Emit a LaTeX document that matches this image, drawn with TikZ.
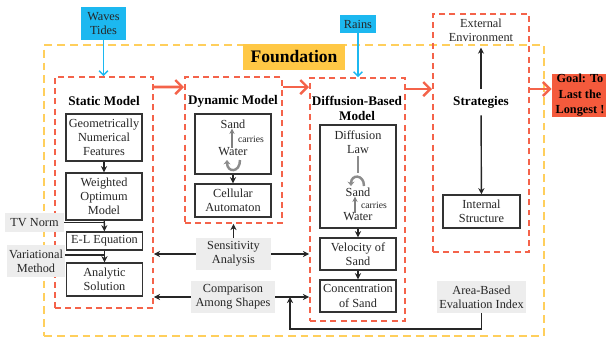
\documentclass[tikz,border=0pt]{standalone}
\usepackage{fontspec}
\setmainfont{Liberation Serif}
\usetikzlibrary{arrows.meta,positioning}

\definecolor{framered}{HTML}{F4634A}
\definecolor{frameyellow}{HTML}{FFCF5C}
\definecolor{labelgray}{HTML}{EDEDED}
\definecolor{skyblue}{HTML}{1CB8F0}
\definecolor{foundorange}{HTML}{FFC845}
\definecolor{goalred}{HTML}{F45A3C}
\definecolor{inktext}{HTML}{262626}

\tikzset{
  every node/.style={font=\fontsize{7}{8}\selectfont, text=inktext, align=center},
  frame/.style={draw=framered, line width=1.1pt, dash pattern=on 3.4pt off 2.4pt, inner sep=0pt},
  outerframe/.style={draw=frameyellow, line width=0.9pt, dash pattern=on 4.5pt off 2.8pt, inner sep=0pt},
  modelbox/.style={draw=black!80, line width=0.8pt, fill=white, minimum width=1.52cm, inner sep=1pt},
  graylabel/.style={fill=labelgray, inner sep=1pt},
  inputbox/.style={fill=skyblue, inner sep=1pt},
  frametitle/.style={font=\fontsize{7.5}{8.5}\bfseries\selectfont, text=black},
  flowarrow/.style={draw=framered, line width=1.6pt, -{Straight Barb[length=4pt,width=8pt,line width=1.4pt]}},
  inarrow/.style={draw=skyblue, line width=0.8pt, -{Straight Barb[length=2.5pt,width=5pt]}},
  thinarrow/.style={draw=black!85, line width=0.8pt, -{Stealth[length=3.5pt,width=3.5pt]}},
  grayarrow/.style={draw=black!50, line width=0.8pt, -{Stealth[length=3pt,width=3pt]}},
  curlarrow/.style={draw=black!45, line width=1.4pt, -{Stealth[length=2.5pt,width=4pt]}},
  smalltext/.style={font=\fontsize{5.5}{6}\selectfont}
}

\begin{document}
\begin{tikzpicture}[x=0.02cm,y=-0.02cm]
  \useasboundingbox (0,0) rectangle (606,338);

  % foundation
  \node[outerframe, minimum width=10cm, minimum height=5.82cm] (found) at (294,190.5) {};
  \node[fill=foundorange, minimum width=2.04cm, minimum height=0.52cm, inner sep=0pt,
        font=\fontsize{10}{11}\bfseries\selectfont, text=black] (foundlabel) at (294,57) {Foundation};

  % frames
  \node[frame, minimum width=1.96cm, minimum height=4.62cm] (static) at (104,192.5) {};
  \node[frame, minimum width=1.94cm, minimum height=2.92cm] (dyn) at (233.5,150) {};
  \node[frame, minimum width=1.90cm, minimum height=4.86cm] (diff) at (357.5,199.5) {};
  \node[frame, minimum width=1.92cm, minimum height=4.76cm] (strat) at (481,133) {};

  \node[frametitle] (statictitle) at (104,101) {Static Model};
  \node[frametitle] (dyntitle) at (233,101) {Dynamic Model};
  \node[frametitle] (difftitle) at (357,108.5) {Diffusion-Based\\Model};
  \node[frametitle, inner sep=4pt] (strattitle) at (481,102) {Strategies};
  \node (ext) at (481,30) {External\\Environment};

  % inputs
  \node[inputbox, minimum width=0.9cm, minimum height=0.66cm] (waves) at (103.5,23.5) {Waves\\Tides};
  \node[inputbox, minimum width=0.72cm, minimum height=0.36cm] (rains) at (358,24) {Rains};

  % static model
  \node[modelbox, minimum height=0.94cm] (geo) at (104,137.5) {Geometrically\\Numerical\\Features};
  \node[modelbox, minimum height=0.94cm] (weighted) at (104,196.5) {Weighted\\Optimum\\Model};
  \node[modelbox, minimum height=0.36cm] (el) at (104.5,241) {E-L Equation};
  \node[modelbox, minimum height=0.66cm] (analytic) at (104.5,279.5) {Analytic\\Solution};
  \node[graylabel, minimum width=1.18cm, minimum height=0.38cm] (tvnorm) at (34.5,222.5) {TV Norm};
  \node[graylabel, minimum width=1.16cm, minimum height=0.64cm] (varmethod) at (36,261) {Variational\\Method};

  % dynamic model
  \node[modelbox, minimum height=1.2cm] (sandwater) at (233,144) {};
  \node[inner sep=0pt] (dsand) at (233,124) {Sand};
  \node[inner sep=0pt] (dwater) at (233,152) {Water};
  \node[smalltext, inner sep=0pt] (dcarries) at (251,139) {carries};
  \node[modelbox, minimum height=0.66cm] (cellular) at (233,200.5) {Cellular\\Automaton};

  % diffusion model
  \node[modelbox, minimum height=2.06cm] (difflaw) at (358,176.5) {};
  \node[inner sep=1pt] (law) at (358,142.5) {Diffusion\\Law};
  \node[inner sep=0pt] (fsand) at (358,192) {Sand};
  \node[inner sep=0pt] (fwater) at (358,217) {Water};
  \node[smalltext, inner sep=0pt] (fcarries) at (374,205) {carries};
  \node[modelbox, minimum height=0.64cm] (velocity) at (358,254) {Velocity of\\Sand};
  \node[modelbox, minimum height=0.64cm] (conc) at (358,296) {Concentration\\of Sand};

  % strategies
  \node[modelbox, minimum width=1.54cm, minimum height=0.66cm] (internal) at (481.5,211.5) {Internal\\Structure};
  \node[fill=goalred, minimum width=1.12cm, minimum height=0.82cm, inner sep=0pt,
        font=\fontsize{7}{8.8}\bfseries\selectfont, text=black] (goal) at (580,95.5) {Goal: To\\Last the\\Longest !};

  % analysis labels
  \node[graylabel, minimum width=1.5cm, minimum height=0.64cm] (sens) at (233.5,254) {Sensitivity\\Analysis};
  \node[graylabel, minimum width=1.68cm, minimum height=0.64cm] (comp) at (233,297) {Comparison\\Among Shapes};
  \node[graylabel, minimum width=1.78cm, minimum height=0.64cm] (area) at (481.5,297) {Area-Based\\Evaluation Index};

  \coordinate (join) at (290,297);
  \coordinate (bend) at (290,329);

  % main flow
  \draw[flowarrow] ([yshift=-0.22cm]static.north east) -- ([yshift=-0.22cm]dyn.north west);
  \draw[flowarrow] ([yshift=-0.22cm]dyn.north east) -- ([yshift=-0.22cm]dyn.north east -| diff.west);
  \draw[flowarrow] ([yshift=-0.24cm]diff.north east) -- ([yshift=-0.24cm]diff.north east -| strat.west);
  \draw[flowarrow] ([yshift=-0.24cm]diff.north east -| strat.east) -- ([yshift=-0.24cm]diff.north east -| goal.west);

  \draw[inarrow] (waves) -- (waves |- static.north);
  \draw[inarrow] (rains) -- (rains |- diff.north);

  \foreach \source/\dest in {geo/weighted, weighted/el, el/analytic, sandwater/cellular,
                             difflaw/velocity, velocity/conc, strattitle/ext, strattitle/internal}
    \draw[thinarrow] (\source) -- (\dest);

  \draw[draw=black!85, line width=0.8pt] (tvnorm.east) -- (tvnorm.east -| el.north);
  \draw[draw=black!85, line width=0.8pt] (varmethod.east |- 0,255) -- (el.south |- 0,255);

  % analyses
  \draw[thinarrow] (sens) -- (dyn.south -| sens);
  \draw[thinarrow] (sens.west) -- (sens.west -| static.east);
  \draw[thinarrow] (sens.east) -- (sens.east -| diff.west);
  \draw[thinarrow] (comp.west) -- (comp.west -| static.east);
  \draw[thinarrow] (comp.east) -- (comp.east -| diff.west);
  \draw[thinarrow] (area.south) |- (bend) -- (join);

  % sand carried by water
  \draw[grayarrow] ([xshift=-0.02cm]dwater.north) -- ([xshift=-0.02cm]dsand.south);
  \draw[grayarrow] ([xshift=-0.06cm]fwater.north) -- ([xshift=-0.06cm]fsand.south);
  \draw[curlarrow] (240,160) .. controls (240,173) and (227,173) .. (227,160);
  \draw[draw=black!45, line width=0.8pt] (law.south) -- (358,173);
  \draw[curlarrow] (364,186) .. controls (364,174) and (351,174) .. (351,186);
\end{tikzpicture}
\end{document}
